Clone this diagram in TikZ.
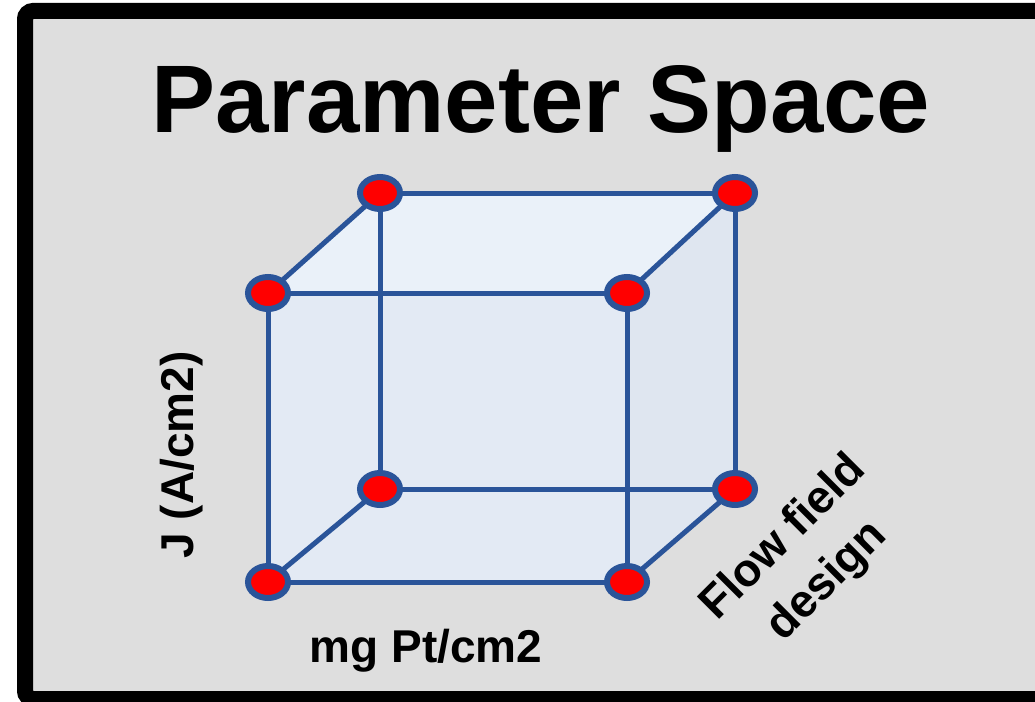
\documentclass[tikz,border=0pt]{standalone}
\usepackage{fontspec}
\setmainfont{Liberation Sans}
\usetikzlibrary{shapes.geometric}
\definecolor{cubeedge}{HTML}{2A5499}
\definecolor{panelgray}{HTML}{DEDEDE}
\definecolor{frontface}{HTML}{E3EAF4}
\definecolor{topface}{HTML}{EAF1F9}
\definecolor{sideface}{HTML}{DFE6F0}
\tikzset{
  vertex/.style={ellipse, draw=cubeedge, line width=6pt, fill=red, minimum width=40pt, minimum height=32pt, inner sep=0pt},
  cubeline/.style={draw=cubeedge, line width=5pt},
  axislabel/.style={font=\fontsize{46}{62}\selectfont\bfseries, inner sep=0pt},
}

\begin{document}
\begin{tikzpicture}[x=1pt,y=-1pt]
\useasboundingbox (0,0) rectangle (1035,701);
% panel
\draw[line width=16pt, fill=panelgray, rounded corners=8pt] (25,11) rectangle (1080,699);
% cube corners
\coordinate (ftl) at (268,293);
\coordinate (ftr) at (627,293);
\coordinate (fbl) at (268,582);
\coordinate (fbr) at (627,582);
\coordinate (btl) at (380,193);
\coordinate (btr) at (735,193);
\coordinate (bbl) at (380,489);
\coordinate (bbr) at (735,489);
% faces
\fill[topface] (ftl) -- (btl) -- (btr) -- (ftr) -- cycle;
\fill[sideface] (ftr) -- (btr) -- (bbr) -- (fbr) -- cycle;
\fill[frontface] (ftl) rectangle (fbr);
% edges
\draw[cubeline] (btl) -- (btr) -- (bbr) -- (bbl) -- cycle;
\draw[cubeline] (ftl) -- (btl);
\draw[cubeline] (ftr) -- (btr);
\draw[cubeline] (fbl) -- (bbl);
\draw[cubeline] (fbr) -- (bbr);
\draw[cubeline] (ftl) -- (ftr) -- (fbr) -- (fbl) -- cycle;
% vertices
\foreach \c in {ftl,ftr,fbl,fbr,btl,btr,bbl,bbr}
  \node[vertex] (v-\c) at (\c) {};
% labels
\node[font=\fontsize{96}{100}\selectfont\bfseries, anchor=base, inner sep=0pt] (title) at (541,132) {Parameter Space};
\node[axislabel, rotate=90, anchor=base] (jlabel) at (193,455) {J (A/cm2)};
\node[axislabel, anchor=base] (mglabel) at (426,662) {mg Pt/cm2};
\node[axislabel, rotate=45, align=center] (flowlabel) at (806,560) {Flow field\\design};
\end{tikzpicture}
\end{document}
